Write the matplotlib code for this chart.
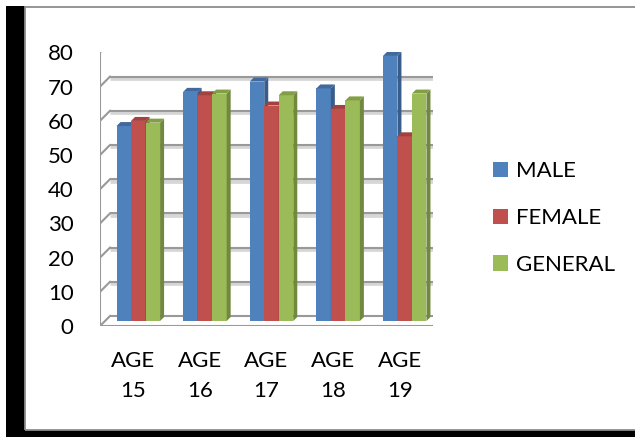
import numpy as np
import matplotlib.pyplot as plt
from matplotlib.patches import Polygon, Rectangle, Patch
from matplotlib.transforms import ScaledTranslation, IdentityTransform

plt.rcParams['font.family'] = ['Lato', 'DejaVu Sans']

# data
ages = ["AGE\n15", "AGE\n16", "AGE\n17", "AGE\n18", "AGE\n19"]
series_names = ["MALE", "FEMALE", "GENERAL"]
male = [57, 67, 70, 68, 77.5]
female = [58.5, 66, 63, 62, 54]
general = [58, 66.5, 66, 64.5, 66.5]
y_ticks = [0, 10, 20, 30, 40, 50, 60, 70, 80]

front_colors = ["#4F81BD", "#C0504D", "#9BBB59"]
side_colors = ["#385D8A", "#8C3836", "#71893F"]
top_colors = ["#41699C", "#A2413F", "#839F45"]

W, H = 635, 437
fig = plt.figure(figsize=(W / 100, H / 100), dpi=100)

# outer frame (black shadow + grey border)
fig.patches.append(Rectangle((6 / W, 0), 19 / W, 431 / H, transform=fig.transFigure,
                             facecolor="black", edgecolor="none", zorder=0))
fig.patches.append(Rectangle((6 / W, 0), 629 / W, 7 / H, transform=fig.transFigure,
                             facecolor="black", edgecolor="none", zorder=0))
fig.patches.append(Rectangle((24.5 / W, 1 - 429.5 / H), 640 / W, 423 / H, transform=fig.transFigure,
                             facecolor="none", edgecolor="#8c8c8c", lw=1.3, zorder=1))

# axes = front plane of the 3D box
ax = fig.add_axes([100 / W, 1 - 326 / H, 333 / W, 273.6 / H])
ax.set_xlim(-0.5, 4.5)
ax.set_ylim(0, 80)
for s in ax.spines.values():
    s.set_visible(False)
ax.patch.set_visible(False)

ident = IdentityTransform()
grid_c = "#999999"
back = 10   # depth of the box in pixels
mid = 5     # plane of the bars
depth = 4   # bar depth


def shifted(dx, dy):
    return ax.transData + ScaledTranslation(dx / 100, dy / 100, fig.dpi_scale_trans)


def disp(x, y, dx=0, dy=0):
    p = ax.transData.transform((x, y))
    return (p[0] + dx, p[1] + dy)


# back wall gridlines with soft shadow
ax.hlines(y_ticks[1:], -0.5, 4.5, colors="#d6d6d6", lw=3.4, transform=shifted(back, back - 1.5), zorder=1)
ax.hlines(y_ticks, -0.5, 4.5, colors=grid_c, lw=1.5, transform=shifted(back, back), zorder=2)

# left wall: front edge and diagonals
ax.plot([-0.5, -0.5], [0, 80], color=grid_c, lw=1.5, zorder=2)
for v in y_ticks:
    a = disp(-0.5, v)
    b = disp(-0.5, v, back, back)
    ax.plot([a[0], b[0]], [a[1], b[1]], color=grid_c, lw=1.5, transform=ident, zorder=2)

# floor
ax.hlines([0], -0.5, 4.5, colors=grid_c, lw=1.5, zorder=2)
a = disp(4.5, 0)
b = disp(4.5, 0, back, back)
ax.plot([a[0], b[0]], [a[1], b[1]], color=grid_c, lw=1.5, transform=ident, zorder=2)

# bars
x = np.arange(len(ages))
bw = 0.218
for k, vals in enumerate([male, female, general]):
    xs = x + (k - 1) * bw
    ax.bar(xs, vals, width=bw, color=front_colors[k], transform=shifted(mid, mid),
           zorder=3 + k, linewidth=0)
    for xi, v in zip(xs, vals):
        r0 = disp(xi + bw / 2, 0, mid, mid)
        r1 = disp(xi + bw / 2, v, mid, mid)
        l1 = disp(xi - bw / 2, v, mid, mid)
        side = [r0, r1, (r1[0] + depth, r1[1] + depth), (r0[0] + depth, r0[1] + depth)]
        top = [l1, r1, (r1[0] + depth, r1[1] + depth), (l1[0] + depth, l1[1] + depth)]
        ax.add_patch(Polygon(side, closed=True, facecolor=side_colors[k], edgecolor="none",
                             transform=ident, zorder=3 + k))
        ax.add_patch(Polygon(top, closed=True, facecolor=top_colors[k], edgecolor="none",
                             transform=ident, zorder=3 + k))

ax.set_yticks(y_ticks)
ax.set_yticklabels([str(t) for t in y_ticks], fontsize=16)
ax.set_xticks(x)
ax.set_xticklabels(ages, fontsize=16, linespacing=1.6)
ax.tick_params(axis="y", length=0, pad=19)
ax.tick_params(axis="x", length=0, pad=18)

handles = [Patch(facecolor=c, edgecolor="none") for c in front_colors]
fig.legend(handles, series_names, loc="center left", bbox_to_anchor=(493 / W, 1 - 218 / H),
           frameon=False, fontsize=16, handlelength=0.68, handleheight=0.68,
           handletextpad=0.35, labelspacing=1.2, borderpad=0, borderaxespad=0)

fig.savefig("out.png", dpi=100)
